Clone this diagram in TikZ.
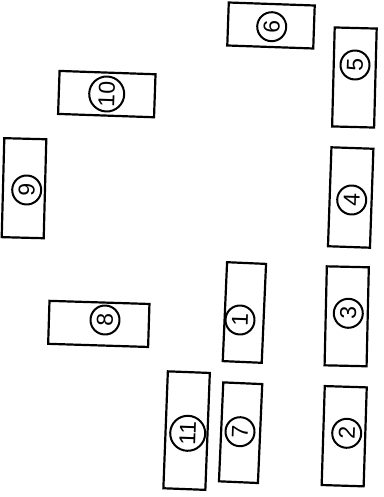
\documentclass[tikz,border=0pt]{standalone}
\usepackage{fontspec}
\setmainfont{Liberation Sans}
\begin{document}
\begin{tikzpicture}[x=1pt,y=-1pt,
  box/.style={draw=black, line width=2.2pt, rectangle, inner sep=0pt, fill=white},
  vbox/.style={box, minimum width=42pt, minimum height=99pt},
  hbox/.style={box, minimum width=96pt, minimum height=43pt},
  num/.style={draw=black, circle, line width=2pt, inner sep=0pt, minimum size=29pt,
    font=\fontsize{23}{23}\selectfont, rotate=88},
  bignum/.style={num, minimum size=35pt}]
\useasboundingbox (0,0) rectangle (383,497);
% boxes
\node[hbox, minimum width=86pt, rotate=-2] (b6) at (271,25.5) {};
\node[vbox, rotate=-1.5] (b5) at (354.4,77.5) {};
\node[hbox, rotate=-2] (b10) at (106.8,94.1) {};
\node[vbox, rotate=-1.5] (b9) at (24,188.2) {};
\node[vbox, rotate=-2] (b4) at (350.7,197.5) {};
\node[hbox, minimum width=100pt, rotate=-1.8] (b8) at (98.8,323.9) {};
\node[vbox, minimum width=39pt, rotate=-2.5] (b1) at (244.4,312.5) {};
\node[vbox, rotate=-1.3] (b3) at (346.7,316.3) {};
\node[vbox, minimum height=117pt, rotate=-2.2] (b11) at (186.6,430.6) {};
\node[vbox, minimum width=39pt, rotate=-2.5] (b7) at (240.6,432.7) {};
\node[vbox, rotate=-1.8] (b2) at (344.2,436.2) {};
% circled numbers
\node[num] (c6) at (271.7,26.7) {6};
\node[num] (c5) at (355,65) {5};
\node[bignum] (c10) at (106.7,94) {10};
\node[num] (c9) at (26.7,190) {9};
\node[num] (c4) at (351.7,200) {4};
\node[num] (c8) at (105,320) {8};
\node[num] (c1) at (240,320) {1};
\node[num] (c3) at (348.3,313.3) {3};
\node[bignum] (c11) at (187.7,433.3) {11};
\node[num] (c7) at (240,431.7) {7};
\node[num] (c2) at (346.7,433.3) {2};
\end{tikzpicture}
\end{document}
